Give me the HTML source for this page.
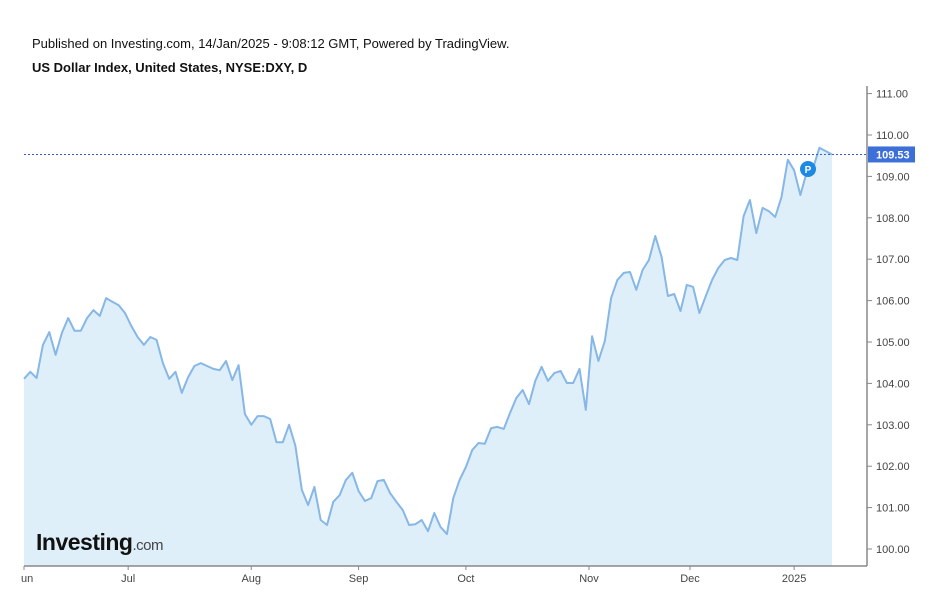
<!DOCTYPE html>
<html><head><meta charset="utf-8"><style>
body{margin:0;background:#fff;width:930px;height:604px;overflow:hidden;font-family:"Liberation Sans",Arial,sans-serif}
</style></head><body>
<svg width="930" height="604" xmlns="http://www.w3.org/2000/svg">
<text x="32" y="48" font-size="13" fill="#111">Published on Investing.com, 14/Jan/2025 - 9:08:12 GMT, Powered by TradingView.</text>
<text x="32" y="72" font-size="13" font-weight="bold" fill="#111">US Dollar Index, United States, NYSE:DXY, D</text>
<g id="plot"></g>
<g id="yaxis"></g>
<g id="xaxis"></g>
<text x="36" y="550" font-size="23" font-weight="bold" fill="#111" letter-spacing="-0.5">Investing<tspan font-size="15" font-weight="normal" fill="#444">.com</tspan></text>
</svg>
<script>
const values=[104.11,104.28,104.13,104.93,105.24,104.69,105.22,105.58,105.27,105.27,105.58,105.77,105.63,106.06,105.97,105.89,105.70,105.39,105.12,104.93,105.12,105.05,104.49,104.11,104.28,103.77,104.15,104.42,104.49,104.42,104.35,104.32,104.54,104.08,104.44,103.26,103.00,103.21,103.21,103.14,102.58,102.58,103.00,102.49,101.43,101.06,101.50,100.70,100.58,101.14,101.30,101.67,101.84,101.40,101.16,101.23,101.64,101.67,101.35,101.14,100.94,100.58,100.60,100.70,100.43,100.87,100.53,100.36,101.23,101.67,101.98,102.39,102.56,102.54,102.92,102.95,102.90,103.29,103.65,103.84,103.50,104.06,104.40,104.06,104.25,104.30,104.01,104.01,104.35,103.36,105.14,104.54,105.02,106.06,106.50,106.67,106.69,106.26,106.74,106.98,107.56,107.05,106.11,106.16,105.75,106.38,106.33,105.70,106.11,106.50,106.79,106.98,107.03,106.98,108.04,108.43,107.63,108.24,108.16,108.02,108.50,109.40,109.15,108.55,109.11,109.20,109.69,109.61,109.53];
const yTicks=[100,101,102,103,104,105,106,107,108,109,110,111];
const monthLabels=["un","Jul","Aug","Sep","Oct","Nov","Dec","2025"];
const monthIdx=[0,16.5,36,53,70,89.5,105.5,122];
const lastPrice=109.53;
const NS="http://www.w3.org/2000/svg";
const x0=24,x1=832;
const xs=i=>x0+i*(x1-x0)/(values.length-1);
const ys=v=>549-(v-100)*41.4;
function mk(t,a,p){const e=document.createElementNS(NS,t);for(const k in a)e.setAttribute(k,a[k]);p.appendChild(e);return e;}
const plot=document.getElementById('plot');
let d=values.map((v,i)=>(i?'L':'M')+xs(i).toFixed(1)+','+ys(v).toFixed(1)).join('');
const area=mk('path',{d:d+'L'+x1+',566L'+x0+',566Z',fill:'#dfeffa'},plot);


const line=mk('path',{d:d,fill:'none',stroke:'#86b7e6','stroke-width':2,'stroke-linejoin':'round'},plot);


const pl=mk('line',{x1:24,x2:867,y1:ys(lastPrice),y2:ys(lastPrice),stroke:'#3b5fc8','stroke-width':1,'stroke-dasharray':'2,2'},plot);


const pc=mk('circle',{cx:808,cy:169,r:8,fill:'#1e88e5'},plot);


const pt=mk('text',{x:808,y:173,'font-size':10,'font-weight':'bold',fill:'#fff','text-anchor':'middle'},plot);pt.textContent='P';


const ya=document.getElementById('yaxis');
mk('line',{x1:867,x2:867,y1:86,y2:566,stroke:'#888','stroke-width':1.5},ya);
yTicks.forEach(v=>{const y=ys(v);
mk('line',{x1:867,x2:872,y1:y,y2:y,stroke:'#888'},ya);
const t=mk('text',{x:876,y:y+4,'font-size':11,fill:'#444'},ya);t.textContent=v.toFixed(2);

});
const lb=mk('rect',{x:868,y:ys(lastPrice)-8,width:47,height:16,fill:'#3d6fd8'},ya);


const lt=mk('text',{x:876,y:ys(lastPrice)+4,'font-size':11,'font-weight':'bold',fill:'#fff'},ya);lt.textContent=lastPrice.toFixed(2);


const xa=document.getElementById('xaxis');
mk('line',{x1:24,x2:867,y1:566,y2:566,stroke:'#888','stroke-width':1.5},xa);
monthLabels.forEach((m,k)=>{const x=xs(monthIdx[k]);
mk('line',{x1:x,x2:x,y1:566,y2:570,stroke:'#888'},xa);
const t=mk('text',{x:k?x:x-3,y:582,'font-size':11,fill:'#444','text-anchor':k?'middle':'start'},xa);t.textContent=m;

});
</script>
</body></html>
